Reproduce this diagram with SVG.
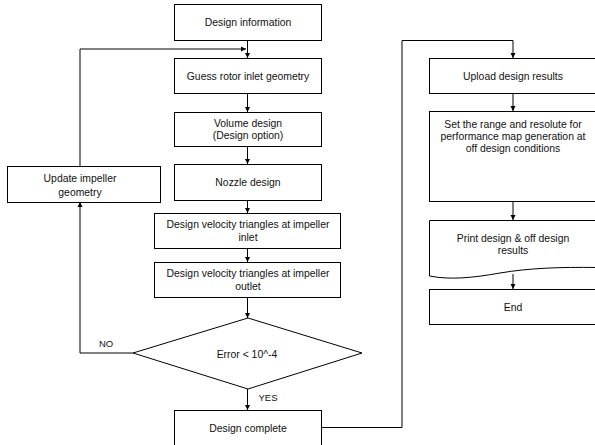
<svg xmlns="http://www.w3.org/2000/svg" width="595" height="445" viewBox="0 0 595 445">
<defs>
<marker id="ah" markerWidth="6" markerHeight="6" refX="5" refY="3" orient="auto" markerUnits="userSpaceOnUse">
<path d="M0,0.5 L5,3 L0,5.5 Z" fill="#000"/>
</marker>
<style>
.box{fill:#fff;stroke:#000;stroke-width:1}
.t{font-family:"Liberation Sans",Arial,sans-serif;font-size:10.4px;fill:#111;text-anchor:middle;dominant-baseline:central}
.s{font-size:9.5px}
.c{fill:none;stroke:#000;stroke-width:1}
</style>
</defs>
<rect width="595" height="445" fill="#fff"/>
<g id="connectors">
<path class="c" d="M247.5,40 V58" marker-end="url(#ah)"/>
<path class="c" d="M80,166 V49 H246" marker-end="url(#ah)"/>
<path class="c" d="M247.5,93 V112" marker-end="url(#ah)"/>
<path class="c" d="M247.5,146 V164" marker-end="url(#ah)"/>
<path class="c" d="M247.5,200 V213" marker-end="url(#ah)"/>
<path class="c" d="M247.5,248 V262" marker-end="url(#ah)"/>
<path class="c" d="M247.5,297 V318" marker-end="url(#ah)"/>
<path class="c" d="M133,353 H80 V202" marker-end="url(#ah)"/>
<path class="c" d="M247.5,389 V410" marker-end="url(#ah)"/>
<path class="c" d="M322,427.5 H402 V40.5 H513 V58" marker-end="url(#ah)"/>
<path class="c" d="M513,93 V111" marker-end="url(#ah)"/>
<path class="c" d="M513,201 V220" marker-end="url(#ah)"/>
<path class="c" d="M513,274 V289" marker-end="url(#ah)"/>
<text class="t s" x="106" y="343">NO</text>
<text class="t s" x="268" y="397">YES</text>
</g>
<g id="n1"><rect class="box" x="174.5" y="4.5" width="147" height="36"/><text class="t" x="248" y="22">Design information</text></g>
<g id="n2"><rect class="box" x="174.5" y="58.5" width="147" height="35"/><text class="t" x="248" y="76">Guess rotor inlet geometry</text></g>
<g id="n3"><rect class="box" x="174.5" y="112.5" width="147" height="34"/><text class="t" x="248" y="123">Volume design</text><text class="t" x="248" y="135">(Design option)</text></g>
<g id="n4"><rect class="box" x="174.5" y="164.5" width="147" height="36"/><text class="t" x="248" y="182">Nozzle design</text></g>
<g id="n5"><rect class="box" x="154.5" y="213.5" width="186" height="35"/><text class="t" x="248" y="224">Design velocity triangles at impeller</text><text class="t" x="248" y="237">inlet</text></g>
<g id="n6"><rect class="box" x="154.5" y="262.5" width="186" height="35"/><text class="t" x="248" y="273">Design velocity triangles at impeller</text><text class="t" x="248" y="286">outlet</text></g>
<g id="n7"><path class="box" d="M133,353 L248,318 L362,353 L248,389 Z"/><text class="t" x="247" y="354">Error &lt; 10^-4</text></g>
<g id="n8"><rect class="box" x="7.5" y="166.5" width="153" height="36"/><text class="t" x="80" y="178">Update impeller</text><text class="t" x="80" y="192">geometry</text></g>
<g id="n9"><rect class="box" x="174.5" y="410.5" width="147" height="40"/><text class="t" x="248" y="428">Design complete</text></g>
<g id="n10"><rect class="box" x="429.5" y="58.5" width="168" height="35"/><text class="t" x="513" y="76">Upload design results</text></g>
<g id="n11"><rect class="box" x="429.5" y="111.5" width="168" height="90"/><text class="t" x="513" y="124">Set the range and resolute for</text><text class="t" x="513" y="136">performance map generation at</text><text class="t" x="513" y="148">off design conditions</text></g>
<g id="n12"><path class="box" d="M429.5,276 V220.5 H597 V267.5 C560,267 530,268 500,273 C472,278 450,280 429.5,276 Z"/><text class="t" x="513" y="238">Print design &amp; off design</text><text class="t" x="513" y="250">results</text></g>
<g id="n13"><rect class="box" x="429.5" y="289.5" width="168" height="35"/><text class="t" x="513" y="307">End</text></g>
</svg>
